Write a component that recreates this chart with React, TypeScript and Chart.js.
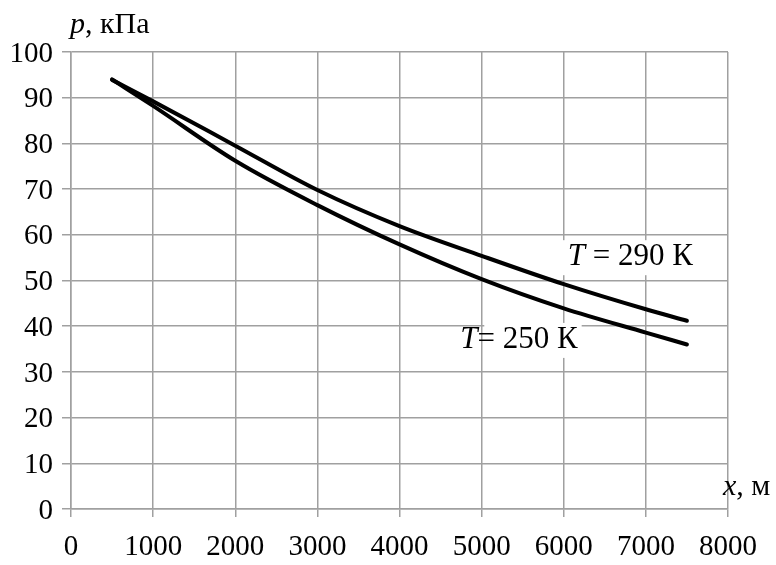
import React, { useEffect, useRef } from "react";
import { Chart, registerables } from "chart.js";

Chart.register(...registerables);

const xValues = [500, 1000, 2000, 3000, 4000, 5000, 6000, 7000, 7500];
const p290 = [93.9, 89.2, 79.5, 69.8, 61.9, 55.4, 49.2, 43.7, 41.2];
const p250 = [94.0, 88.2, 76.2, 66.5, 57.9, 50.3, 43.9, 38.6, 36.0];
const xTicks = [0, 1000, 2000, 3000, 4000, 5000, 6000, 7000, 8000];
const yTicks = [0, 10, 20, 30, 40, 50, 60, 70, 80, 90, 100];

const seriesLabels = [
  { italic: "T", rest: " = 290 К", x: 6050, y: 55.1, boxLeft: -6 },
  { italic: "T", rest: "= 250 К", x: 4740, y: 37.0, boxLeft: 24 },
];

const FONT = "'Liberation Serif', 'Times New Roman', serif";
const GRID = "#a0a0a0";
const LABEL_SIZE = 31;

const annotate = {
  id: "annotate",
  afterDatasetsDraw(chart: any) {
    const ctx = chart.ctx;
    const xs = chart.scales.x;
    const ys = chart.scales.y;
    ctx.save();
    ctx.textBaseline = "middle";
    ctx.textAlign = "left";
    for (const l of seriesLabels) {
      const px = xs.getPixelForValue(l.x);
      const py = ys.getPixelForValue(l.y);
      ctx.font = `italic ${LABEL_SIZE}px ${FONT}`;
      const w1 = ctx.measureText(l.italic).width;
      ctx.font = `${LABEL_SIZE}px ${FONT}`;
      const w2 = ctx.measureText(l.rest).width;
      ctx.fillStyle = "#ffffff";
      ctx.fillRect(px + l.boxLeft, py - 17, w1 + w2 - l.boxLeft + 4, 35);
      ctx.fillStyle = "#000000";
      ctx.font = `italic ${LABEL_SIZE}px ${FONT}`;
      ctx.fillText(l.italic, px, py);
      ctx.font = `${LABEL_SIZE}px ${FONT}`;
      ctx.fillText(l.rest, px + w1, py);
    }
    ctx.textBaseline = "alphabetic";
    const drawTitle = (it: string, rest: string, x: number, y: number) => {
      ctx.font = `italic 30px ${FONT}`;
      ctx.fillText(it, x, y);
      const w = ctx.measureText(it).width;
      ctx.font = `30px ${FONT}`;
      ctx.fillText(rest, x + w, y);
    };
    drawTitle("p", ", кПа", xs.left - 1, chart.chartArea.top - 19);
    drawTitle("x", ", м", xs.right - 5, ys.bottom - 14);
    ctx.restore();
  },
};

export default function App() {
  const ref = useRef<HTMLCanvasElement | null>(null);
  useEffect(() => {
    if (!ref.current) return;
    const chart = new Chart(ref.current, {
      type: "line",
      data: {
        datasets: [
          {
            label: "T = 290 К",
            data: xValues.map((x, i) => ({ x, y: p290[i] })),
            borderColor: "#000",
            borderWidth: 4,
            pointRadius: 0,
            cubicInterpolationMode: "monotone",
            borderCapStyle: "round",
            fill: false,
          },
          {
            label: "T = 250 К",
            data: xValues.map((x, i) => ({ x, y: p250[i] })),
            borderColor: "#000",
            borderWidth: 4,
            pointRadius: 0,
            cubicInterpolationMode: "monotone",
            borderCapStyle: "round",
            fill: false,
          },
        ],
      },
      options: {
        responsive: false,
        animation: false,
        events: [],
        layout: { padding: { top: 52, right: 48, left: 0, bottom: 0 } },
        plugins: { legend: { display: false }, tooltip: { enabled: false }, title: { display: false } },
        scales: {
          x: {
            type: "linear",
            min: 0,
            max: 8000,
            afterBuildTicks: (s: any) => {
              s.ticks = xTicks.map((v) => ({ value: v }));
            },
            afterFit: (s: any) => {
              s.height = 56;
            },
            grid: { color: GRID, lineWidth: 1.5, tickLength: 8, drawTicks: true },
            border: { color: GRID, width: 1.5 },
            ticks: {
              autoSkip: false,
              maxRotation: 0,
              color: "#000",
              padding: 13,
              callback: (v: any) => String(v),
              font: { family: FONT, size: 29 },
            },
          },
          y: {
            type: "linear",
            min: 0,
            max: 100,
            afterBuildTicks: (s: any) => {
              s.ticks = yTicks.map((v) => ({ value: v }));
            },
            afterFit: (s: any) => {
              s.width = 71;
            },
            grid: { color: GRID, lineWidth: 1.5, tickLength: 9, drawTicks: true },
            border: { color: GRID, width: 1.5 },
            ticks: {
              autoSkip: false,
              color: "#000",
              padding: 9,
              labelOffset: 2,
              callback: (v: any) => String(v),
              font: { family: FONT, size: 29 },
            },
          },
        },
      },
      plugins: [annotate],
    } as any);
    return () => chart.destroy();
  }, []);
  return (
    <div style={{ position: "fixed", left: 0, top: 0, width: 776, height: 565, background: "#fff" }}>
      <canvas ref={ref} width={776} height={565} />
    </div>
  );
}
